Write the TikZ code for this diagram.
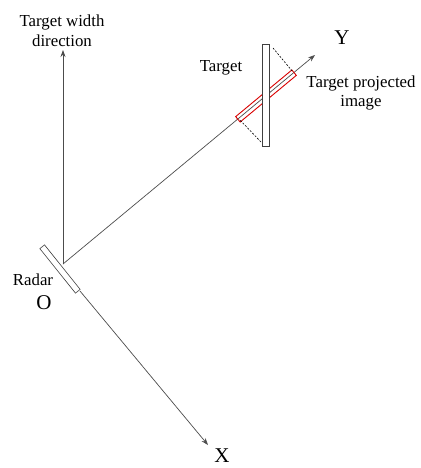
\documentclass[tikz,border=0pt]{standalone}
\usepackage{fontspec}
\setmainfont{Liberation Serif}
\usetikzlibrary{arrows.meta}
\begin{document}
\begin{tikzpicture}[x=1pt,y=-1pt,
  axis/.style={draw=black!70, line width=0.7pt, -{Stealth[length=7pt,width=5pt]}},
  plate/.style={draw=black!75, line width=0.6pt, fill=white, inner sep=0pt},
  proj/.style={draw=red!85!black, line width=0.9pt, inner sep=0pt},
  dashline/.style={draw=black, line width=0.6pt, dash pattern=on 2pt off 1.5pt},
  lbl/.style={font=\fontsize{16.8}{19.5}\selectfont, align=center, inner sep=0pt},
  big/.style={font=\fontsize{21}{24}\selectfont, inner sep=0pt}]
\useasboundingbox (0,0) rectangle (420,468);
\coordinate (O) at (63,264);
\coordinate (W) at (63,50);
\coordinate (Yt) at (315,55);
\coordinate (Xs) at (80,291);
\coordinate (Xt) at (208,445);
\coordinate (d1a) at (273,48);
\coordinate (d1b) at (293,72);
\coordinate (d2a) at (261,142);
\coordinate (d2b) at (239,119);
% axes
\draw[axis] (O) -- (W);
\draw[axis] (O) -- (Yt);
\draw[axis] (Xs) -- (Xt);
% radar
\node[plate, minimum width=57pt, minimum height=6pt, rotate=-51.3] (radar) at (60,269) {};
% projected image
\node[proj, minimum width=73pt, minimum height=7pt, rotate=39.7] (projimg) at (266,96) {};
% target
\node[plate, minimum width=7pt, minimum height=102pt] (target) at (265.5,95) {};
\draw[dashline] (d1a) -- (d1b);
\draw[dashline] (d2a) -- (d2b);
% labels
\node[lbl] (wlab) at (62,31) {Target width\\direction};
\node[lbl] (tlab) at (221,68) {Target};
\node[lbl] (plab) at (361,93) {Target projected\\image};
\node[lbl] (rlab) at (33,280) {Radar};
\node[big] (olab) at (44,303) {O};
\node[big] (ylab) at (342,38) {Y};
\node[big] (xlab) at (222,456) {X};
\end{tikzpicture}
\end{document}
